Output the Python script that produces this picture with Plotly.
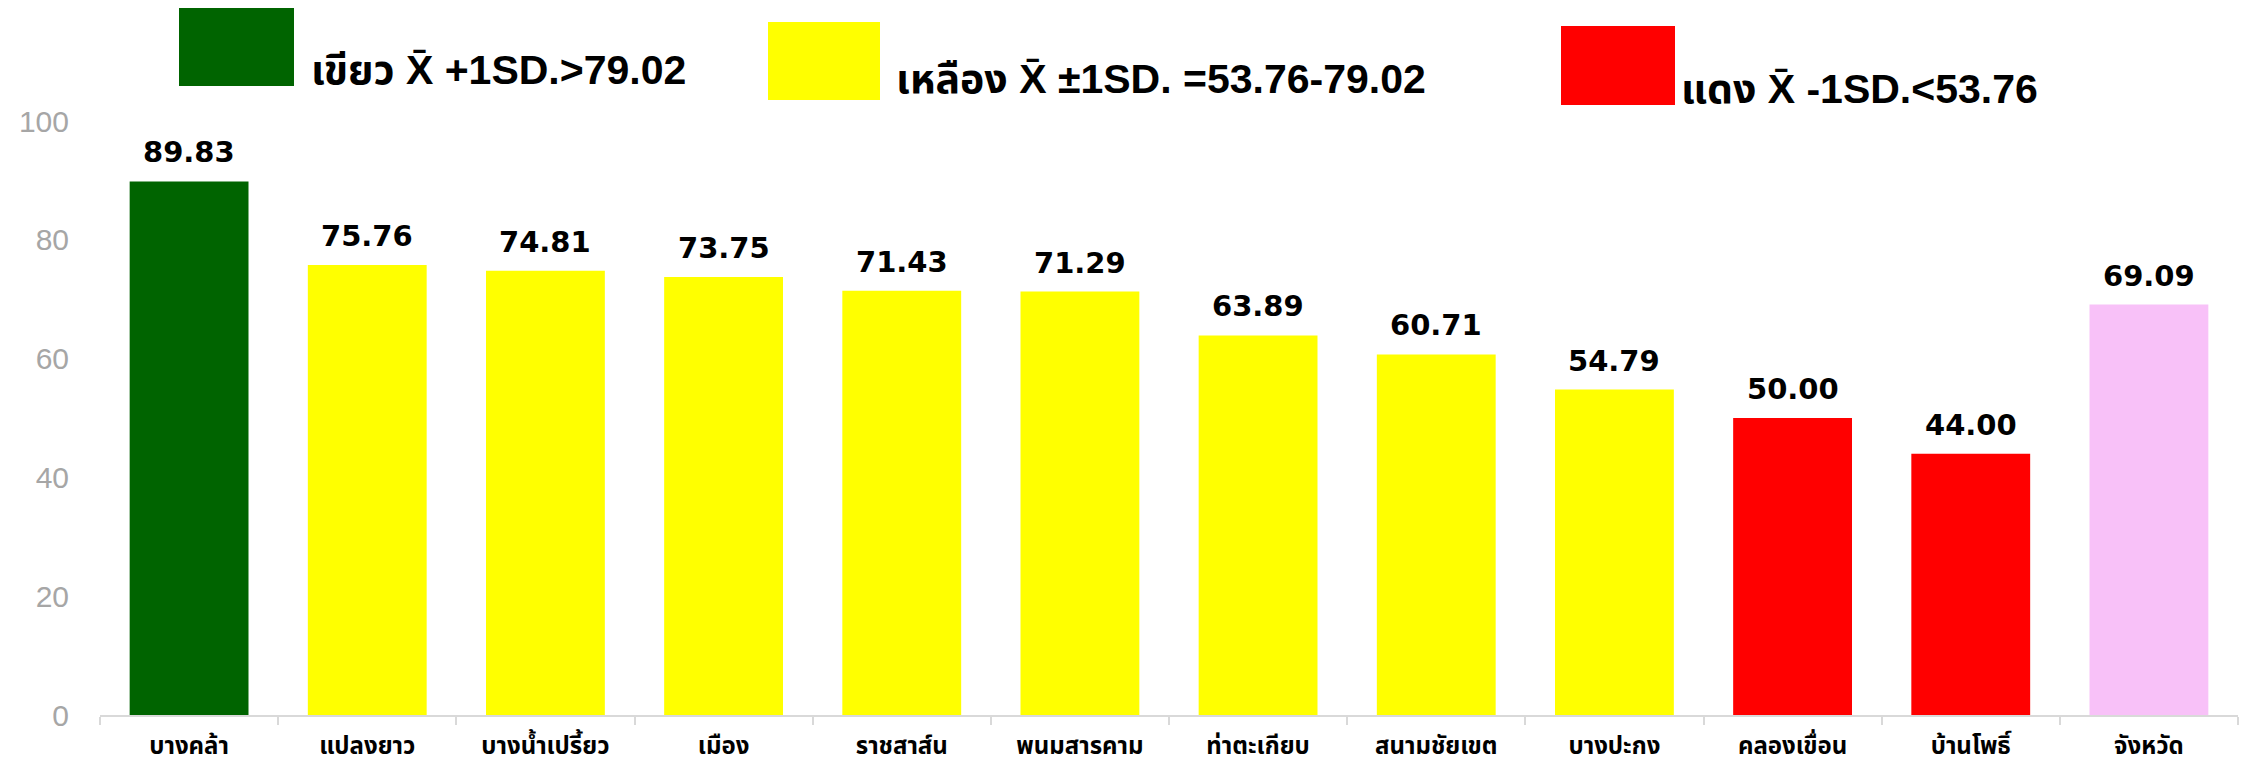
import plotly.graph_objects as go

# ---- data ----
districts = ["บางคล้า", "แปลงยาว", "บางน้ำเปรี้ยว", "เมือง", "ราชสาส์น", "พนมสารคาม",
             "ท่าตะเกียบ", "สนามชัยเขต", "บางปะกง", "คลองเขื่อน", "บ้านโพธิ์", "จังหวัด"]
scores = [89.83, 75.76, 74.81, 73.75, 71.43, 71.29, 63.89, 60.71, 54.79, 50.00, 44.00, 69.09]
bar_colors = ["#006400", "#FFFF00", "#FFFF00", "#FFFF00", "#FFFF00", "#FFFF00",
              "#FFFF00", "#FFFF00", "#FFFF00", "#FF0000", "#FF0000", "#F8C1F8"]

legend_labels = ["เขียว X\u0304 +1SD.>79.02",
                 "เหลือง X\u0304 ±1SD. =53.76-79.02",
                 "แดง X\u0304 -1SD.<53.76"]
legend_colors = ["#006400", "#FFFF00", "#FF0000"]
y_ticks = [0, 20, 40, 60, 80, 100]

# ---- layout geometry (screen pixels); page body has an 8px default margin ----
OFF = 8
SW, SH = 2250, 764
W, H = SW - OFF, SH - OFF
PL, PR, PT, PB = 100, 2238, 121, 715   # plot area in screen pixels
ML, MT = PL - OFF, PT - OFF
MR, MB = SW - PR, SH - PB
PW, PH = PR - PL, PB - PT

def px(x):
    return (x - PL) / PW

def py(y):
    return (PB - y) / PH

fig = go.Figure()
fig.add_trace(go.Bar(
    x=districts, y=scores, marker=dict(color=bar_colors, line=dict(width=0)),
    showlegend=False, hoverinfo="x+y",
))

annotations = []
for d, v in zip(districts, scores):
    annotations.append(dict(
        x=d, y=v, xref="x", yref="y", text=f"{v:.2f}", showarrow=False,
        yanchor="bottom", yshift=10,
        font=dict(family="DejaVu Sans", size=29, color="black", weight="bold"),
    ))

# legend boxes and texts
box_px = [(179, 294, 7, 86), (768, 880, 22, 100), (1561, 1675, 26, 105)]
text_px = [(309, 70), (894, 79), (1679, 89)]
shapes = []
for (x0, x1, y0, y1), col in zip(box_px, legend_colors):
    shapes.append(dict(type="rect", xref="paper", yref="paper",
                       x0=px(x0), x1=px(x1), y0=py(y1), y1=py(y0),
                       fillcolor=col, line=dict(width=0)))
for (tx, ty), lab in zip(text_px, legend_labels):
    annotations.append(dict(
        x=px(tx), y=py(ty), xref="paper", yref="paper", text=lab, showarrow=False,
        xanchor="left", yanchor="middle",
        font=dict(family="Liberation Sans, Noto Sans Thai, Noto Sans, sans-serif",
                  size=41, color="black", weight="bold"),
    ))

fig.update_layout(
    width=W, height=H,
    margin=dict(l=ML, r=MR, t=MT, b=MB),
    paper_bgcolor="white", plot_bgcolor="white",
    bargap=0.333,
    annotations=annotations, shapes=shapes,
    xaxis=dict(
        automargin=False,
        showline=True, linecolor="#D9D9D9", linewidth=2,
        ticks="outside", tickson="boundaries", ticklen=8, tickcolor="#D9D9D9", tickwidth=2,
        ticklabelstandoff=8,
        tickfont=dict(family="Tahoma, Noto Sans Thai, Noto Sans, sans-serif",
                      size=24, color="black", weight="bold"),
        showgrid=False,
    ),
    yaxis=dict(
        automargin=False,
        range=[0, 100], tickvals=y_ticks, showgrid=False, zeroline=False,
        showline=False, ticks="", ticklabelstandoff=30,
        tickfont=dict(family="Liberation Sans, sans-serif", size=30, color="#A6A6A6"),
    ),
)

fig.write_html("out.html")
